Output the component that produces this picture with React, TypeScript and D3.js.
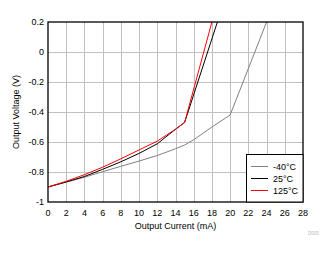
import { useRef, useEffect } from 'react';
import * as d3 from 'd3';

// Output voltage vs. output current, per temperature
const currentM40 = [0, 2, 4, 6, 8, 10, 12, 14, 15, 16, 18, 20, 24];
const voltageM40 = [-0.9, -0.868, -0.835, -0.798, -0.762, -0.727, -0.69, -0.645, -0.62, -0.585, -0.5, -0.42, 0.2];
const current25 = [0, 2, 4, 6, 8, 10, 12, 14, 15, 18.6];
const voltage25 = [-0.9, -0.866, -0.83, -0.782, -0.732, -0.676, -0.612, -0.515, -0.47, 0.2];
const current125 = [0, 2, 4, 6, 8, 10, 12, 14, 15, 18];
const voltage125 = [-0.9, -0.862, -0.818, -0.768, -0.712, -0.653, -0.594, -0.515, -0.47, 0.2];

const seriesNames = ['-40°C', '25°C', '125°C'];
const seriesColors = ['#808080', '#000000', '#ff0000'];

const xTicks = [0, 2, 4, 6, 8, 10, 12, 14, 16, 18, 20, 22, 24, 26, 28];
const yTicks = [-1, -0.8, -0.6, -0.4, -0.2, 0, 0.2];

const W = 336;
const H = 254;
const margin = { left: 48, top: 22, right: 33, bottom: 52 };

export default function App() {
  const svgRef = useRef<SVGSVGElement>(null);

  useEffect(() => {
    if (!svgRef.current) return;
    const svg = d3.select(svgRef.current);
    svg.selectAll('*').remove();

    const x = d3.scaleLinear().domain([0, 28]).range([margin.left, W - margin.right]);
    const y = d3.scaleLinear().domain([-1, 0.2]).range([H - margin.bottom, margin.top]);
    const font = 'Liberation Sans, Arial, sans-serif';

    svg.append('defs').append('clipPath').attr('id', 'plot-clip')
      .append('rect')
      .attr('x', x(0)).attr('y', y(0.2))
      .attr('width', x(28) - x(0)).attr('height', y(-1) - y(0.2));

    // grid
    const grid = svg.append('g').attr('stroke', '#c0c0c0').attr('stroke-width', 1);
    xTicks.slice(1, -1).forEach((t) => {
      grid.append('line')
        .attr('x1', Math.round(x(t)) + 0.5).attr('x2', Math.round(x(t)) + 0.5)
        .attr('y1', y(0.2)).attr('y2', y(-1));
    });
    yTicks.slice(1, -1).forEach((t) => {
      grid.append('line')
        .attr('x1', x(0)).attr('x2', x(28))
        .attr('y1', Math.round(y(t)) + 0.5).attr('y2', Math.round(y(t)) + 0.5);
    });

    // curves
    const series = [
      { c: currentM40, v: voltageM40 },
      { c: current25, v: voltage25 },
      { c: current125, v: voltage125 },
    ];
    const line = d3.line<[number, number]>().x((d) => x(d[0])).y((d) => y(d[1]));
    const curves = svg.append('g').attr('clip-path', 'url(#plot-clip)');
    series.forEach((s, i) => {
      const pts = s.c.map((c, j) => [c, s.v[j]] as [number, number]);
      curves.append('path')
        .attr('d', line(pts) as string)
        .attr('fill', 'none')
        .attr('stroke', seriesColors[i])
        .attr('stroke-width', 1);
    });

    // frame
    svg.append('rect')
      .attr('x', x(0)).attr('y', y(0.2))
      .attr('width', x(28) - x(0)).attr('height', y(-1) - y(0.2))
      .attr('fill', 'none').attr('stroke', '#000').attr('stroke-width', 1.3);

    // tick labels
    const fmt = (v: number) => (Math.abs(v) < 1e-9 ? '0' : String(+v.toFixed(1)));
    svg.append('g').selectAll('text').data(xTicks).join('text')
      .attr('x', (d) => x(d)).attr('y', 216)
      .attr('text-anchor', 'middle')
      .attr('font-family', font).attr('font-size', 9)
      .text((d) => d);
    svg.append('g').selectAll('text').data(yTicks).join('text')
      .attr('x', 44).attr('y', (d) => y(d) + 3)
      .attr('text-anchor', 'end')
      .attr('font-family', font).attr('font-size', 9)
      .text((d) => fmt(d));

    // axis titles
    svg.append('text')
      .attr('x', x(14)).attr('y', 229)
      .attr('text-anchor', 'middle')
      .attr('font-family', font).attr('font-size', 9)
      .text('Output Current (mA)');
    svg.append('text')
      .attr('transform', `translate(19, ${(y(0.2) + y(-1)) / 2}) rotate(-90)`)
      .attr('text-anchor', 'middle')
      .attr('font-family', font).attr('font-size', 9)
      .text('Output Voltage (V)');

    // legend
    const lg = svg.append('g');
    lg.append('rect')
      .attr('x', 246.5).attr('y', 154.5)
      .attr('width', x(28) - 246.5).attr('height', y(-1) - 154.5)
      .attr('fill', '#fff').attr('stroke', '#000').attr('stroke-width', 1);
    seriesNames.forEach((n, i) => {
      const ly = 166.5 + i * 12;
      lg.append('line')
        .attr('x1', 251).attr('x2', 268)
        .attr('y1', ly).attr('y2', ly)
        .attr('stroke', seriesColors[i]).attr('stroke-width', 1);
      lg.append('text')
        .attr('x', 273).attr('y', ly + 3)
        .attr('font-family', font).attr('font-size', 9)
        .text(n);
    });

    svg.append('text')
      .attr('x', 308).attr('y', 235)
      .attr('font-family', font).attr('font-size', 4.5)
      .attr('fill', '#b8b8b8')
      .text('D005');
  }, []);

  return (
    <svg
      ref={svgRef}
      width={W}
      height={H}
      style={{ position: 'absolute', left: 0, top: 0, background: '#fff' }}
    />
  );
}
